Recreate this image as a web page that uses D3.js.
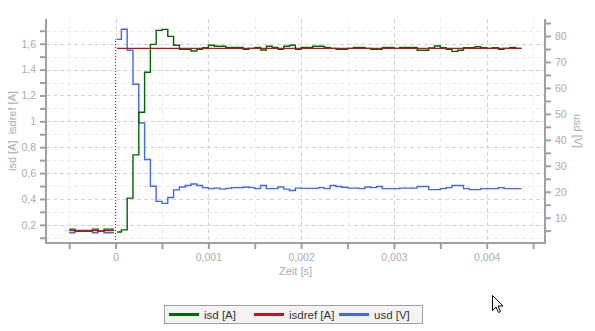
<html>
  <head>
    <meta charset="UTF-8" />
    <script src="https://cdnjs.cloudflare.com/ajax/libs/d3/7.8.5/d3.min.js"></script>
    <style>
      body { margin: 0; background: #fff; }
      text { font-family: "Liberation Sans", Arial, sans-serif; }
    </style>
  </head>
  <body>
    <svg id="chart" width="595" height="331"></svg>
    <script>
      // sample grid of the recorder (16 kHz), first sample and end of last step
      const t0 = -0.0005;
      const dt = 0.0000625;
      const tEnd = 0.004375;

      const isd = [
        0.167, 0.151, 0.151, 0.151, 0.167, 0.151, 0.167, 0.167,
        0.144, 0.161, 0.406, 0.741, 1.070, 1.379, 1.595, 1.703, 1.711, 1.657,
        1.588, 1.557, 1.557, 1.544, 1.557, 1.569, 1.588, 1.580, 1.580, 1.572,
        1.572, 1.572, 1.557, 1.564, 1.572, 1.551, 1.580, 1.572, 1.557, 1.580,
        1.588, 1.557, 1.572, 1.572, 1.580, 1.580, 1.572, 1.564, 1.557, 1.557,
        1.564, 1.572, 1.572, 1.564, 1.557, 1.557, 1.572, 1.572, 1.564, 1.572,
        1.572, 1.572, 1.549, 1.549, 1.567, 1.582, 1.569, 1.557, 1.541, 1.549,
        1.569, 1.569, 1.577, 1.569, 1.564, 1.569, 1.557, 1.564, 1.572, 1.564
      ];

      const isdref = [
        0.156, 0.156, 0.156, 0.156, 0.156, 0.150, 0.156, 0.156,
        1.564, 1.564, 1.564, 1.564, 1.564, 1.564, 1.564, 1.564, 1.564, 1.564,
        1.564, 1.564, 1.564, 1.564, 1.564, 1.564, 1.564, 1.564, 1.564, 1.564,
        1.564, 1.564, 1.564, 1.564, 1.564, 1.564, 1.564, 1.564, 1.564, 1.564,
        1.564, 1.564, 1.564, 1.564, 1.564, 1.564, 1.564, 1.564, 1.564, 1.564,
        1.564, 1.564, 1.564, 1.564, 1.564, 1.564, 1.564, 1.564, 1.564, 1.564,
        1.564, 1.564, 1.564, 1.564, 1.564, 1.564, 1.564, 1.564, 1.564, 1.564,
        1.564, 1.564, 1.564, 1.564, 1.564, 1.564, 1.564, 1.564, 1.564, 1.564
      ];

      const usd = [
        4.2, 4.8, 4.8, 4.8, 4.2, 4.8, 4.2, 4.2,
        78.7, 82.6, 74.5, 61.4, 46.5, 32.4, 22.1, 16.3, 15.5, 17.8,
        20.7, 21.8, 22.4, 23.0, 22.4, 21.6, 21.2, 21.4, 21.0, 21.3,
        21.6, 21.6, 21.8, 21.6, 21.2, 22.4, 21.2, 21.2, 21.8, 21.0,
        20.5, 21.4, 21.3, 21.3, 21.3, 21.6, 21.2, 22.4, 22.0, 21.7,
        21.4, 21.4, 21.2, 21.8, 21.6, 22.0, 21.2, 21.2, 21.2, 21.4,
        21.4, 21.4, 22.0, 22.0, 20.8, 20.8, 21.2, 21.6, 22.4, 22.4,
        21.2, 20.8, 20.8, 21.2, 21.2, 21.2, 21.6, 21.2, 21.2, 21.2
      ];

      const legendNames = ["isd [A]", "isdref [A]", "usd [V]"];
      const legendColors = ["#006400", "#c0141c", "#4169e1"];

      const times = isd.map((_, i) => t0 + i * dt);

      const locale = d3.formatLocale({ decimal: ",", thousands: ".", grouping: [3], currency: ["", "€"] });
      const fmt = locale.format("~g");

      const pLeft = 46, pRight = 545, pTop = 19, pBottom = 243;
      const axisColor = "#a0a0a0";
      const labelColor = "#a8abb5";

      const x = d3.scaleLinear().domain([-0.00075, 0.004628]).range([pLeft, pRight]);
      const yL = d3.scaleLinear().domain([0.0595, 1.791]).range([pBottom, pTop]);
      const yR = d3.scaleLinear().domain([0.25, 86.55]).range([pBottom, pTop]);

      const xTicks = d3.range(-0.0005, 0.00451, 0.0005);
      const yTicks = d3.range(0.1, 1.751, 0.1);
      const rTicks = d3.range(5, 86, 5);

      const svg = d3.select("#chart");

      // grid
      const grid = svg.append("g");
      grid.selectAll(".hg")
        .data(yTicks)
        .enter()
        .append("line")
        .attr("x1", pLeft).attr("x2", pRight)
        .attr("y1", d => Math.round(yL(d)) + 0.5)
        .attr("y2", d => Math.round(yL(d)) + 0.5)
        .style("stroke", d => Math.round(d * 10) % 2 === 0 ? "#d2d2d2" : "#ececec")
        .style("stroke-dasharray", "4,3");
      grid.selectAll(".vg")
        .data(xTicks)
        .enter()
        .append("line")
        .attr("y1", pTop).attr("y2", pBottom)
        .attr("x1", d => Math.round(x(d)) + 0.5)
        .attr("x2", d => Math.round(x(d)) + 0.5)
        .style("stroke", d => Math.round(d * 2000) % 2 === 0 ? "#d2d2d2" : "#ececec")
        .style("stroke-dasharray", "4,3");

      // series
      const pts = vals => times.map((t, i) => [t, vals[i]]).concat([[tEnd, vals[vals.length - 1]]]);

      const lineL = d3.line().x(d => x(d[0])).y(d => yL(d[1])).curve(d3.curveStepAfter);
      const lineR = d3.line().x(d => x(d[0])).y(d => yR(d[1])).curve(d3.curveStepAfter);

      svg.append("path").attr("d", lineR(pts(usd)))
        .style("fill", "none").style("stroke", legendColors[2]).style("stroke-width", 1.4);
      svg.append("path").attr("d", lineL(pts(isd)))
        .style("fill", "none").style("stroke", legendColors[0]).style("stroke-width", 1.4);
      svg.append("path").attr("d", lineL(pts(isdref)))
        .style("fill", "none").style("stroke", legendColors[1]).style("stroke-width", 1.4);

      // trigger marker at t = 0
      svg.append("line")
        .attr("x1", x(0)).attr("x2", x(0))
        .attr("y1", pBottom).attr("y2", yR(usd[8]))
        .style("stroke", "#fff").style("stroke-width", 3);
      svg.append("line")
        .attr("x1", x(0)).attr("x2", x(0))
        .attr("y1", pBottom).attr("y2", yR(usd[8]))
        .style("stroke", "#7a2a3a").style("stroke-width", 1.2)
        .style("stroke-dasharray", "1,2");

      // axes
      function styleAxis(g) {
        g.select(".domain").style("stroke", axisColor).style("stroke-width", 2);
        g.selectAll(".tick line").style("stroke", axisColor).style("stroke-width", 2);
        g.selectAll(".tick text").style("fill", labelColor).style("font-size", "10.5px");
      }

      svg.append("g")
        .attr("transform", `translate(${pLeft},0)`)
        .call(d3.axisLeft(yL).tickValues(yTicks).tickSize(6).tickSizeOuter(0).tickPadding(4)
          .tickFormat(d => Math.round(d * 10) % 2 === 0 ? fmt(+d.toFixed(1)) : ""))
        .call(styleAxis)
        .select(".domain").attr("d", `M0,${pTop}V${pBottom}`);

      svg.append("g")
        .attr("transform", `translate(${pRight},0)`)
        .call(d3.axisRight(yR).tickValues(rTicks).tickSize(6).tickSizeOuter(0).tickPadding(4)
          .tickFormat(d => d % 10 === 0 ? d : ""))
        .call(styleAxis)
        .select(".domain").attr("d", `M0,${pTop}V${pBottom + 1}`);

      svg.append("g")
        .attr("transform", `translate(0,${pBottom})`)
        .call(d3.axisBottom(x).tickValues(xTicks).tickSize(6).tickSizeOuter(0).tickPadding(5)
          .tickFormat(d => Math.round(d * 2000) % 2 === 0 ? fmt(+d.toFixed(4)) : ""))
        .call(styleAxis)
        .select(".domain").attr("d", `M${pLeft - 1},0H${pRight + 1}`);

      // axis titles
      svg.append("text")
        .attr("transform", `translate(16,${(pTop + pBottom) / 2}) rotate(-90)`)
        .attr("text-anchor", "middle")
        .attr("xml:space", "preserve")
        .style("fill", labelColor).style("font-size", "11px")
        .text("isd [A]  isdref [A]");

      svg.append("text")
        .attr("transform", `translate(574,${(pTop + pBottom) / 2}) rotate(90)`)
        .attr("text-anchor", "middle")
        .style("fill", labelColor).style("font-size", "11px")
        .text("usd [V]");

      svg.append("text")
        .attr("x", (pLeft + pRight) / 2).attr("y", 275)
        .attr("text-anchor", "middle")
        .style("fill", labelColor).style("font-size", "11px")
        .text("Zeit [s]");

      // legend
      const legend = svg.append("g").attr("transform", "translate(164,305)");
      legend.append("rect")
        .attr("x", 0.5).attr("y", 0.5).attr("width", 258).attr("height", 18)
        .style("fill", "#f3f3f3").style("stroke", "#a0a0a0");
      const legendX = [5, 90, 175];
      legendNames.forEach((name, i) => {
        legend.append("line")
          .attr("x1", legendX[i]).attr("x2", legendX[i] + 30)
          .attr("y1", 9.5).attr("y2", 9.5)
          .style("stroke", legendColors[i]).style("stroke-width", 3);
        legend.append("text")
          .attr("x", legendX[i] + 35).attr("y", 13.5)
          .style("fill", "#333").style("font-size", "11.5px")
          .text(name);
      });

      // mouse pointer left in the screenshot
      svg.append("path")
        .attr("transform", "translate(492.5,295.5)")
        .attr("d", "M0,0 V15 L3.5,11.5 L6,17 L8,16 L5.5,10.5 L10.5,10.5 Z")
        .style("fill", "#fff").style("stroke", "#000").style("stroke-width", 1);
    </script>
  </body>
</html>
